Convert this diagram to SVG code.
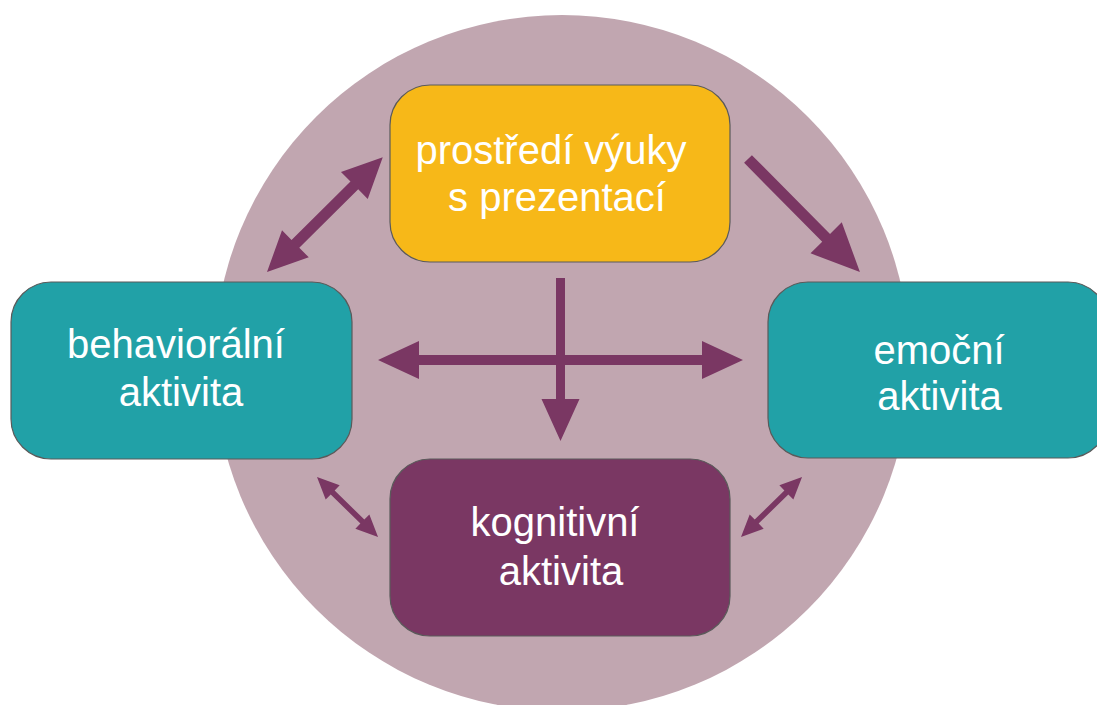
<svg xmlns="http://www.w3.org/2000/svg" width="1097" height="705" viewBox="0 0 1097 705">
<style>
.box{stroke:#5a5a5a;stroke-width:1.2}
.lbl{font-family:"Liberation Sans",Arial,sans-serif;font-size:40px;fill:#ffffff;text-anchor:middle}
.arr{fill:#7a3763}
</style>
<rect x="0" y="0" width="1097" height="705" fill="#ffffff"/>
<circle id="background-circle" cx="562" cy="363" r="348" fill="#c1a6b0"/>
<g id="connectors" class="arr">
<polygon transform="translate(267,272) rotate(-44.75)" points="0,0 40,-19 40,-5.5 123,-5.5 123,-19 163,0 123,19 123,5.5 40,5.5 40,19"/>
<polygon transform="translate(748,159) rotate(45.26)" points="0,-5.5 111,-5.5 111,-22 159,0 111,22 111,5.5 0,5.5"/>
<polygon transform="translate(378,360)" points="0,0 41,-19 41,-5 324,-5 324,-19 365,0 324,19 324,5 41,5 41,19"/>
<polygon points="556,278 565,278 565,399 579.5,399 560.5,441 541.5,399 556,399"/>
<polygon transform="translate(317,477) rotate(44.5)" points="0,0 22,-10 22,-2.8 63.6,-2.8 63.6,-10 85.6,0 63.6,10 63.6,2.8 22,2.8 22,10"/>
<polygon transform="translate(741,537) rotate(-44.5)" points="0,0 22,-10 22,-2.8 63.6,-2.8 63.6,-10 85.6,0 63.6,10 63.6,2.8 22,2.8 22,10"/>
</g>
<g id="node-prostredi">
<rect class="box" x="390" y="85" width="340" height="177" rx="40" ry="40" fill="#f7b818"/>
<text class="lbl" x="551" y="164">prostředí výuky</text>
<text class="lbl" x="557" y="211">s prezentací</text>
</g>
<g id="node-behavioralni">
<rect class="box" x="11" y="282" width="341" height="177" rx="40" ry="40" fill="#21a1a7"/>
<text class="lbl" x="176" y="358">behaviorální</text>
<text class="lbl" x="181" y="406">aktivita</text>
</g>
<g id="node-emocni">
<rect class="box" x="768" y="282" width="340" height="176" rx="40" ry="40" fill="#21a1a7"/>
<text class="lbl" x="939" y="364">emoční</text>
<text class="lbl" x="939.5" y="410">aktivita</text>
</g>
<g id="node-kognitivni">
<rect class="box" x="390" y="459" width="340" height="177" rx="40" ry="40" fill="#7a3763"/>
<text class="lbl" x="555" y="536">kognitivní</text>
<text class="lbl" x="561" y="585">aktivita</text>
</g>
</svg>
